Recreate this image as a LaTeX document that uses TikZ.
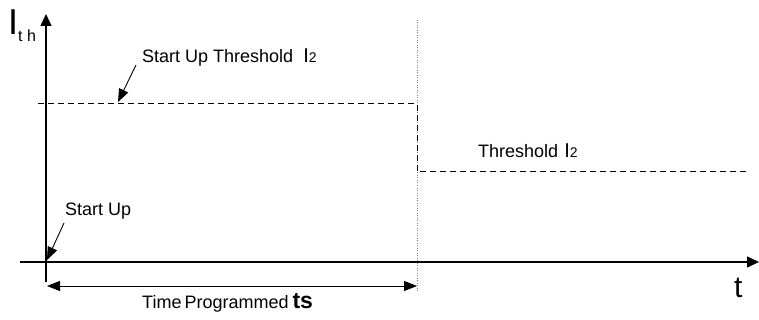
\documentclass[tikz,border=0pt]{standalone}
\usepackage{fontspec}
\setmainfont{Liberation Sans}
\usetikzlibrary{arrows.meta}
\begin{document}
\begin{tikzpicture}[x=1pt,y=-1pt,
  axis/.style={line width=1.4pt,-{Triangle[length=12pt,width=11pt]}},
  thr/.style={line width=1pt,dash pattern=on 6pt off 4pt},
  lead/.style={line width=0.9pt,-{Triangle[length=13pt,width=10pt]}},
  span/.style={line width=1pt,{Triangle[length=13pt,width=10pt]}-{Triangle[length=13pt,width=10pt]}},
  lbl/.style={font=\fontsize{18}{21}\selectfont,inner sep=0pt}]
\useasboundingbox (0,0) rectangle (759,320);
% coordinates
\coordinate (ybot) at (46,282);
\coordinate (ytop) at (46,14);
\coordinate (xl) at (20,262);
\coordinate (xr) at (759,262);
\coordinate (d1) at (38,104);
\coordinate (d2) at (417,104);
\coordinate (d3) at (417,172);
\coordinate (d4) at (748,172);
\coordinate (vtop) at (417,20);
\coordinate (vbot) at (417,291);
\coordinate (sa) at (47,286);
\coordinate (sb) at (417,286);
\coordinate (tip1) at (118,102);
\coordinate (tip2) at (47,260);
% axes
\draw[axis] (ybot) -- (ytop);
\draw[axis] (xl) -- (xr);
% dotted vertical
\draw[gray,line width=0.8pt,dash pattern=on 1pt off 1.5pt] (vtop) -- (vbot);
% threshold
\draw[thr] (d1) -- (d2) -- (d3) -- (d4);
% span
\draw[span] (sa) -- (sb);
% labels
\node[anchor=base west,inner sep=0pt,font=\fontsize{36}{40}\selectfont] (ith) at (8,35) {I};
\node[anchor=base west,inner sep=0pt,font=\fontsize{16}{18}\selectfont] (sub) at (18,42) {t h};
\node[lbl,anchor=base west] (sut) at (142,63) {Start Up Threshold\hspace{10pt}{\fontsize{20}{21}\selectfont I}{\fontsize{14}{15}\selectfont 2}};
\node[lbl,anchor=base west] (su) at (65,215) {Start Up};
\node[lbl,anchor=base west] (th) at (478,158) {Threshold\hspace{6pt}{\fontsize{20}{21}\selectfont I}{\fontsize{14}{15}\selectfont 2}};
\node[anchor=base west,inner sep=0pt,font=\fontsize{30}{34}\selectfont] (tl) at (734,297) {t};
\node[lbl,anchor=base west] (tp) at (142,308) {Time\,Programmed\hspace{4pt}{\fontsize{23}{24}\selectfont\bfseries ts}};
% leaders
\draw[lead] (136,65) coordinate (l1) -- (tip1);
\draw[lead] (64,223) coordinate (l2) -- (tip2);
\end{tikzpicture}
\end{document}
